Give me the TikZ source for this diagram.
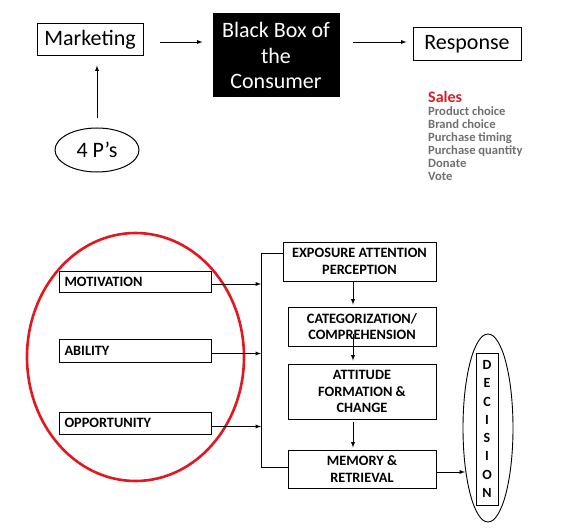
\documentclass[tikz,border=0pt]{standalone}
\usepackage{fontspec}
\setmainfont{Carlito}
\usetikzlibrary{arrows}
\usetikzlibrary{shapes.geometric}

\definecolor{ringred}{RGB}{228,22,32}
\definecolor{salesred}{RGB}{214,30,38}
\definecolor{listgray}{RGB}{112,112,112}

\tikzset{
  topbox/.style={draw, line width=1pt, inner sep=0pt, font=\fontsize{22}{25.5}\selectfont},
  factorbox/.style={draw, line width=0.9pt, minimum width=152pt, text width=141pt, inner xsep=5.5pt, inner ysep=0pt, align=left, font=\fontsize{14.3}{16}\selectfont\bfseries},
  stagebox/.style={draw, line width=0.9pt, inner sep=0pt, align=center, font=\fontsize{14.3}{16.7}\selectfont\bfseries},
  link/.style={->, line width=0.9pt}
}

\begin{document}
\begin{tikzpicture}[x=1pt, y=-1pt, >=latex]
  \useasboundingbox (0,0) rectangle (581,532);
  \node [topbox, minimum width=106pt, minimum height=32pt] (mkt) at (90,40) {Marketing};
  \node [topbox, fill=black, text=white, align=center, minimum width=126pt, minimum height=83pt] (bb) at (276,55.5) {Black Box of\\the\\Consumer};
  \node [topbox, minimum width=108pt, minimum height=33pt] (resp) at (467,44.5) {Response};
  \node [topbox, ellipse, minimum width=84pt, minimum height=44pt] (fourp) at (97,150) {4 P’s};
  \draw [link] ([xshift=16pt,yshift=-2pt]mkt.east) -- ([xshift=-10pt,yshift=-2pt]bb.west |- mkt.east);
  \draw [link] ([xshift=13pt,yshift=2.5pt]bb.east |- resp.west) -- ([xshift=-6pt,yshift=2.5pt]resp.west);
  \draw [link] ([yshift=9pt]fourp.north) -- ([yshift=-9pt]fourp.north |- mkt.south);
  \node [anchor=west, inner sep=0pt, text=salesred, font=\fontsize{16}{18}\selectfont\bfseries] (sales) at (428,97) {Sales};
  \node [anchor=north west, inner sep=0pt, align=left, text=listgray, font=\fontsize{12.6}{13.1}\selectfont\bfseries] (salelist) at (428,106) {Product choice\\Brand choice\\Purchase timing\\Purchase quantity\\Donate\\Vote};
  \draw [ringred, line width=2.6pt] (135.5,357) ellipse [x radius=108.5, y radius=124];
  \node [factorbox, minimum height=21pt] (mot) at (135,281.5) {MOTIVATION};
  \node [factorbox, minimum height=23pt] (abl) at (135,350.5) {ABILITY};
  \node [factorbox, minimum height=22pt] (opp) at (135,423) {OPPORTUNITY};
  \coordinate (bustop) at (261,253);
  \coordinate (busbot) at (261,467);
  \draw [link] ([yshift=-2.5pt]mot.east) -- ([yshift=-2.5pt]mot.east -| bustop);
  \draw [link] ([yshift=-3pt]abl.east) -- ([yshift=-3pt]abl.east -| bustop);
  \draw [link] ([yshift=-3.5pt]opp.east) -- ([yshift=-3.5pt]opp.east -| bustop);
  \node [stagebox, minimum width=153pt, minimum height=39pt] (expo) at (359.5,261.5) {EXPOSURE ATTENTION\\PERCEPTION};
  \node [stagebox, minimum width=148pt, minimum height=39pt] (cat) at (362,326.5) {CATEGORIZATION/\\COMPREHENSION};
  \node [stagebox, minimum width=148pt, minimum height=55pt] (att) at (362,391.5) {ATTITUDE\\FORMATION \&\\CHANGE};
  \node [stagebox, minimum width=148pt, minimum height=38pt] (mem) at (362,469) {MEMORY \&\\RETRIEVAL};
  \draw [line width=0.9pt] (expo.west |- bustop) -- (bustop) -- (busbot) -- (mem.west |- busbot);
  \coordinate (flow) at (353,0);
  \draw [link] (expo.south -| flow) -- ([yshift=2pt]cat.north -| flow);
  \draw [link] ([yshift=12pt]cat.south -| flow) -- ([yshift=3pt]att.north -| flow);
  \draw [link] ([yshift=-3pt]att.south -| flow) -- ([yshift=2pt]mem.north -| flow);
  \node [draw, ellipse, line width=0.9pt, minimum width=50pt, minimum height=188pt, inner sep=0pt] (decring) at (488,428) {};
  \node [draw, line width=0.9pt, minimum width=22pt, minimum height=152pt, inner sep=0pt, align=center, font=\fontsize{14}{18.3}\selectfont\bfseries] (dec) at (487,429) {D\\E\\C\\I\\S\\I\\O\\N};
  \coordinate (decin) at (465,472);
  \draw [link] ([yshift=-3pt]mem.east) -- (decin);
\end{tikzpicture}
\end{document}
